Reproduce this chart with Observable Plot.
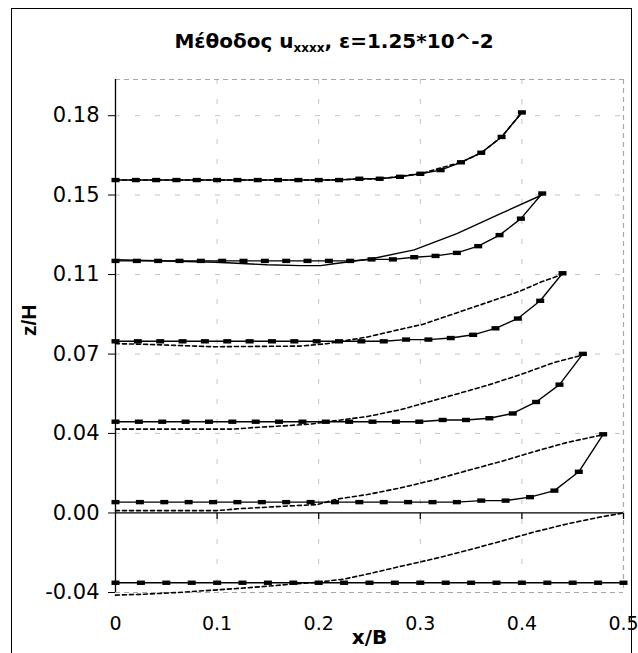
<!DOCTYPE html>
<html>
<head>
<meta charset="utf-8">
<script src="https://cdn.jsdelivr.net/npm/d3@7"></script>
<script src="https://cdn.jsdelivr.net/npm/@observablehq/plot@0.6"></script>
<style>
  html, body { margin: 0; padding: 0; background: #fff; }
  #wrap { position: relative; width: 638px; height: 653px; overflow: hidden; background: #fff; }
  #frame { position: absolute; left: 11px; top: 8px; width: 619px; height: 700px; border: 1.5px solid #000; pointer-events: none; }
  #title { position: absolute; top: 29px; left: 14px; width: 640px; text-align: center;
           font: bold 20px "DejaVu Sans", sans-serif; color: #000; white-space: nowrap; }
  #title .sub { font-size: 12px; position: relative; top: 4px; }
  #chart { position: absolute; left: 0; top: 0; }
</style>
</head>
<body>
<div id="wrap">
  <div id="chart"></div>
  <div id="frame"></div>
  <div id="title">Μέθοδος u<span class="sub">xxxx</span>, ε=1.25*10^-2</div>
</div>
<script>
// ---- axis ticks ----
const xTicks = [0, 0.1, 0.2, 0.3, 0.4, 0.5];
const xTickLabels = ["0", "0.1", "0.2", "0.3", "0.4", "0.5"];
const yTicks = [-0.0367, 0, 0.0367, 0.0733, 0.11, 0.1467, 0.1833];
const yTickLabels = ["-0.04", "0.00", "0.04", "0.07", "0.11", "0.15", "0.18"];
const yMin = -0.0367, yMax = 0.2;

// ---- marked (solid + square markers) series ----
const xL1 = [0,0.02,0.04,0.06,0.08,0.10,0.12,0.14,0.16,0.18,0.20,0.22,0.24,0.26,0.28,0.30,0.32,0.34,0.36,0.38,0.40];
const yL1 = [0.1536,0.1536,0.1536,0.1536,0.1536,0.1536,0.1536,0.1536,0.1536,0.1536,0.1536,0.1536,0.1542,0.1542,0.1551,0.1565,0.1582,0.1618,0.1662,0.1735,0.1848];
const xL2 = [0,0.021,0.042,0.063,0.084,0.105,0.126,0.147,0.168,0.189,0.21,0.231,0.252,0.273,0.294,0.315,0.336,0.357,0.378,0.399,0.42];
const yL2 = [0.1163,0.1163,0.1163,0.1163,0.1163,0.1163,0.1163,0.1163,0.1163,0.1163,0.1163,0.1163,0.1170,0.1170,0.1180,0.1186,0.1200,0.1231,0.1282,0.1358,0.1474];
const xL3 = [0,0.022,0.044,0.066,0.088,0.11,0.132,0.154,0.176,0.198,0.22,0.242,0.264,0.286,0.308,0.33,0.352,0.374,0.396,0.418,0.44];
const yL3 = [0.0792,0.0792,0.0792,0.0792,0.0792,0.0792,0.0792,0.0792,0.0792,0.0792,0.0792,0.0792,0.0792,0.0800,0.0800,0.0807,0.0822,0.0852,0.0897,0.0979,0.1106];
const xL4 = [0,0.023,0.046,0.069,0.092,0.115,0.138,0.161,0.184,0.207,0.23,0.253,0.276,0.299,0.322,0.345,0.368,0.391,0.414,0.437,0.46];
const yL4 = [0.0421,0.0421,0.0421,0.0421,0.0421,0.0421,0.0421,0.0421,0.0421,0.0421,0.0421,0.0421,0.0421,0.0421,0.0429,0.0429,0.0437,0.0459,0.0512,0.0592,0.0734];
const xL5 = [0,0.024,0.048,0.072,0.096,0.12,0.144,0.168,0.192,0.216,0.24,0.264,0.288,0.312,0.336,0.36,0.384,0.408,0.432,0.456,0.48];
const yL5 = [0.0050,0.0050,0.0050,0.0050,0.0050,0.0050,0.0050,0.0050,0.0050,0.0050,0.0050,0.0050,0.0050,0.0050,0.0050,0.0057,0.0057,0.0073,0.0103,0.0190,0.0363];
const xL6 = [0,0.025,0.05,0.075,0.1,0.125,0.15,0.175,0.2,0.225,0.25,0.275,0.3,0.325,0.35,0.375,0.4,0.425,0.45,0.475,0.5];
const yL6 = [-0.0322,-0.0322,-0.0322,-0.0322,-0.0322,-0.0322,-0.0322,-0.0322,-0.0322,-0.0322,-0.0322,-0.0322,-0.0322,-0.0322,-0.0322,-0.0322,-0.0322,-0.0322,-0.0322,-0.0322,-0.0322];

// ---- comparison curves (no markers) ----
const xC1 = [0, 0.20, 0.26, 0.30, 0.34, 0.36, 0.38, 0.40];
const yC1 = [0.1536, 0.1536, 0.1542, 0.1565, 0.1618, 0.1662, 0.1735, 0.1848];
const xC2 = [0, 0.10, 0.149, 0.182, 0.202, 0.215, 0.251, 0.294, 0.336, 0.379, 0.423];
const yC2 = [0.1168, 0.1157, 0.1145, 0.1141, 0.1141, 0.1150, 0.1172, 0.1214, 0.1289, 0.1381, 0.1474];
const xC3 = [0, 0.031, 0.097, 0.182, 0.208, 0.248, 0.281, 0.303, 0.335, 0.366, 0.399, 0.418, 0.443];
const yC3 = [0.0781, 0.0778, 0.0767, 0.0770, 0.0781, 0.0812, 0.0848, 0.0871, 0.0922, 0.0971, 0.1025, 0.1064, 0.1106];
const xC4 = [0, 0.116, 0.136, 0.166, 0.192, 0.215, 0.248, 0.281, 0.300, 0.333, 0.366, 0.399, 0.431, 0.464];
const yC4 = [0.0387, 0.0387, 0.0394, 0.0402, 0.0410, 0.0425, 0.0445, 0.0477, 0.0502, 0.0545, 0.0589, 0.0639, 0.0693, 0.0734];
const xC5 = [0, 0.100, 0.123, 0.166, 0.199, 0.218, 0.248, 0.281, 0.313, 0.346, 0.379, 0.412, 0.445, 0.482];
const yC5 = [0.0011, 0.0011, 0.0020, 0.0031, 0.0039, 0.0064, 0.0085, 0.0116, 0.0152, 0.0195, 0.0237, 0.0283, 0.0326, 0.0363];
const xC6 = [0, 0.028, 0.061, 0.097, 0.136, 0.175, 0.199, 0.225, 0.248, 0.281, 0.313, 0.346, 0.379, 0.412, 0.445, 0.477, 0.500];
const yC6 = [-0.0379, -0.0375, -0.0367, -0.0356, -0.0343, -0.0328, -0.0320, -0.0305, -0.0282, -0.0246, -0.0212, -0.0173, -0.0131, -0.0088, -0.0050, -0.0019, 0.0000];

// ---- build tables ----
function rows(name, xs, ys) { return xs.map((x, i) => ({series: name, x, y: ys[i]})); }
const marked = [].concat(
  rows("L1", xL1, yL1), rows("L2", xL2, yL2), rows("L3", xL3, yL3),
  rows("L4", xL4, yL4), rows("L5", xL5, yL5), rows("L6", xL6, yL6));
const solidPlain = rows("C2", xC2, yC2);
const dashed = [].concat(
  rows("C1", xC1, yC1), rows("C3", xC3, yC3), rows("C4", xC4, yC4),
  rows("C5", xC5, yC5), rows("C6", xC6, yC6));
const xTickRows = xTicks.slice(1).map(x => ({x, y: 0}));
const xLabelRows = xTicks.map((x, i) => ({x, y: yMin, label: xTickLabels[i]}));

const yLabelMap = new Map(yTicks.map((t, i) => [t, yTickLabels[i]]));

const rectSymbol = { draw(ctx) { ctx.rect(-4, -2.2, 8, 4.4); } };
const tickDown = { draw(ctx) { ctx.moveTo(0, 0); ctx.lineTo(0, 6); } };

const grid = {stroke: "#c4c4c4", strokeWidth: 1, strokeDasharray: "5,15"};
const border = {stroke: "#a8a8a8", strokeWidth: 1.2, strokeDasharray: "5,4"};

const chart = Plot.plot({
  width: 638,
  height: 653,
  marginLeft: 115,
  marginRight: 15,
  marginTop: 79,
  marginBottom: 61,
  style: {fontFamily: "'DejaVu Sans', sans-serif", fontSize: "21px", background: "transparent", color: "#000"},
  x: {domain: [0, 0.5], axis: null},
  y: {domain: [yMin, yMax], ticks: yTicks, tickFormat: d => yLabelMap.get(d), tickSize: 7, tickPadding: 9, label: null},
  marks: [
    Plot.ruleY(yTicks.slice(2), grid),
    Plot.ruleX(xTicks.slice(1, 5), grid),
    Plot.ruleY([yMax, yMin], border),
    Plot.ruleX([0.5], border),
    Plot.ruleX([0], {stroke: "#000", strokeWidth: 1.3}),
    Plot.ruleY([0], {stroke: "#000", strokeWidth: 1.3}),
    Plot.dot(xTickRows, {x: "x", y: "y", symbol: tickDown, stroke: "#000", fill: "none", strokeWidth: 1.3}),
    Plot.text(xLabelRows, {x: "x", y: "y", text: "label", dy: 31, fontSize: 19}),
    Plot.line(dashed, {x: "x", y: "y", z: "series", stroke: "#000", strokeWidth: 1.6, strokeDasharray: "4,3"}),
    Plot.line(solidPlain, {x: "x", y: "y", stroke: "#000", strokeWidth: 1.4}),
    Plot.line(marked, {x: "x", y: "y", z: "series", stroke: "#000", strokeWidth: 1.4}),
    Plot.dot(marked, {x: "x", y: "y", symbol: rectSymbol, fill: "#000", stroke: "none"}),
    Plot.text(["x/B"], {frameAnchor: "bottom", dy: 51, fontWeight: "bold", fontSize: 20}),
    Plot.text(["z/H"], {frameAnchor: "left", dx: -86, rotate: -90, fontWeight: "bold", fontSize: 21, fontFamily: "'Liberation Sans', Arial, sans-serif"})
  ]
});
document.getElementById("chart").appendChild(chart);
</script>
</body>
</html>
